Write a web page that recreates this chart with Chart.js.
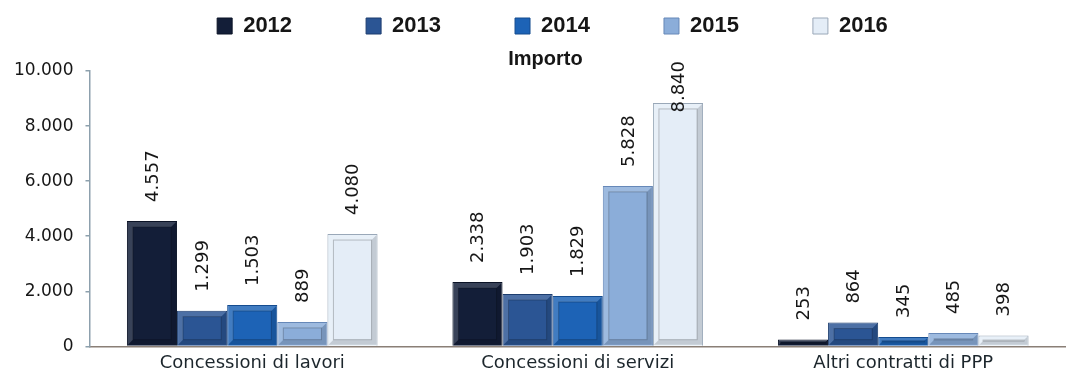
<!DOCTYPE html>
<html>
<head>
<meta charset="utf-8">
<script src="https://cdn.jsdelivr.net/npm/chart.js@4"></script>
<style>
  body { margin: 0; background: #fff; }
  #wrap { width: 1066px; height: 382px; }
</style>
</head>
<body>
<div id="wrap"><canvas id="chart" width="1066" height="382"></canvas></div>
<script>
var categories = ["Concessioni di lavori", "Concessioni di servizi", "Altri contratti di PPP"];
var years = ["2012", "2013", "2014", "2015", "2016"];
var v2012 = [4557, 2338, 253];
var v2013 = [1299, 1903, 864];
var v2014 = [1503, 1829, 345];
var v2015 = [889, 5828, 485];
var v2016 = [4080, 8840, 398];
var yTicks = [0, 2000, 4000, 6000, 8000, 10000];

var fills = ["#131e38", "#2b5594", "#1d63b6", "#8badd9", "#e4edf7"];
var edges = ["#0b1326", "#1d3d6e", "#154c8f", "#6688b8", "#9aa8b8"];

// 1234 -> "1.234"
function fmt(v) {
    return String(v).replace(/\B(?=(\d{3})+(?!\d))/g, ".");
}

var series = [v2012, v2013, v2014, v2015, v2016];
var datasets = series.map(function (vals, i) {
    return {
        label: years[i],
        data: vals,
        backgroundColor: fills[i],
        borderColor: edges[i],
        borderWidth: 1,
        categoryPercentage: 0.77,
        barPercentage: 1.0
    };
});

// bevelled look on each bar
var bevel = {
    id: "bevel",
    afterDatasetsDraw: function (chart) {
        var ctx = chart.ctx;
        chart.data.datasets.forEach(function (ds, di) {
            chart.getDatasetMeta(di).data.forEach(function (bar) {
                var l = bar.x - bar.width / 2, r = bar.x + bar.width / 2;
                var t = bar.y, b = bar.base;
                var h = b - t;
                var s = Math.min(6, h / 2 - 0.5);
                if (s < 1) return;
                ctx.save();
                // top + left light
                ctx.fillStyle = "rgba(255,255,255,0.16)";
                ctx.beginPath();
                ctx.moveTo(l + 1, t + 1); ctx.lineTo(r - 1, t + 1); ctx.lineTo(r - s, t + s);
                ctx.lineTo(l + s, t + s); ctx.lineTo(l + s, b - s); ctx.lineTo(l + 1, b - 1);
                ctx.closePath(); ctx.fill();
                // bottom + right dark
                ctx.fillStyle = "rgba(0,0,0,0.14)";
                ctx.beginPath();
                ctx.moveTo(r - 1, t + 1); ctx.lineTo(r - 1, b - 1); ctx.lineTo(l + 1, b - 1);
                ctx.lineTo(l + s, b - s); ctx.lineTo(r - s, b - s); ctx.lineTo(r - s, t + s);
                ctx.closePath(); ctx.fill();
                ctx.strokeStyle = "rgba(0,0,0,0.22)";
                ctx.lineWidth = 1;
                ctx.strokeRect(l + s, t + s, r - l - 2 * s, h - 2 * s);
                ctx.restore();
            });
        });
    }
};

// vertical value labels above the bars
var valueLabels = {
    id: "valueLabels",
    afterDatasetsDraw: function (chart) {
        var ctx = chart.ctx;
        var ceiling = chart.chartArea.top - 10;
        ctx.save();
        ctx.font = "18px 'DejaVu Sans'";
        ctx.fillStyle = "#161616";
        ctx.textAlign = "left";
        ctx.textBaseline = "middle";
        chart.data.datasets.forEach(function (ds, di) {
            chart.getDatasetMeta(di).data.forEach(function (bar, i) {
                var txt = fmt(ds.data[i]);
                var w = ctx.measureText(txt).width;
                var yStart = Math.max(bar.y - 19, ceiling + w);
                ctx.save();
                ctx.translate(bar.x + 1, yStart);
                ctx.rotate(-Math.PI / 2);
                ctx.fillText(txt, 0, 0);
                ctx.restore();
            });
        });
        ctx.restore();
    }
};

// nudge legend and title so they sit over the plot
var headerShift = {
    id: "headerShift",
    afterLayout: function (chart) {
        chart.legend.left += 15; chart.legend.right += 15;
        chart.titleBlock.left += 8; chart.titleBlock.right += 8;
    }
};

new Chart(document.getElementById("chart"), {
    type: "bar",
    data: { labels: categories, datasets: datasets },
    plugins: [bevel, valueLabels, headerShift],
    options: {
        responsive: false,
        animation: false,
        // the legend row padding is wide, so the top is pulled up to compensate
        layout: { padding: { left: 2, right: -7, top: -59, bottom: 2 } },
        plugins: {
            legend: {
                position: "top",
                weight: 3000,
                labels: {
                    boxWidth: 15,
                    boxHeight: 16,
                    padding: 74,
                    color: "#161616",
                    font: { family: "'Liberation Sans'", size: 22, weight: "bold" }
                }
            },
            title: {
                display: true,
                text: "Importo",
                color: "#161616",
                font: { family: "'Liberation Sans'", size: 20, weight: "bold" },
                padding: { top: 0, bottom: 0 }
            },
            tooltip: { enabled: false }
        },
        scales: {
            x: {
                grid: { display: false, drawTicks: false },
                border: { color: "#8a7f76", width: 1.5 },
                ticks: {
                    color: "#1c262c",
                    padding: 6,
                    font: { family: "'DejaVu Sans'", size: 18 }
                }
            },
            y: {
                min: 0,
                max: 10000,
                afterBuildTicks: function (axis) {
                    axis.ticks = yTicks.map(function (v) { return { value: v }; });
                },
                grid: { drawOnChartArea: false, tickLength: 4, color: "#8da0ad", lineWidth: 1.5 },
                border: { color: "#8da0ad", width: 1.5 },
                ticks: {
                    color: "#161616",
                    padding: 12,
                    font: { family: "'DejaVu Sans'", size: 17 },
                    callback: function (v) { return fmt(v); }
                }
            }
        }
    }
});
</script>
</body>
</html>
